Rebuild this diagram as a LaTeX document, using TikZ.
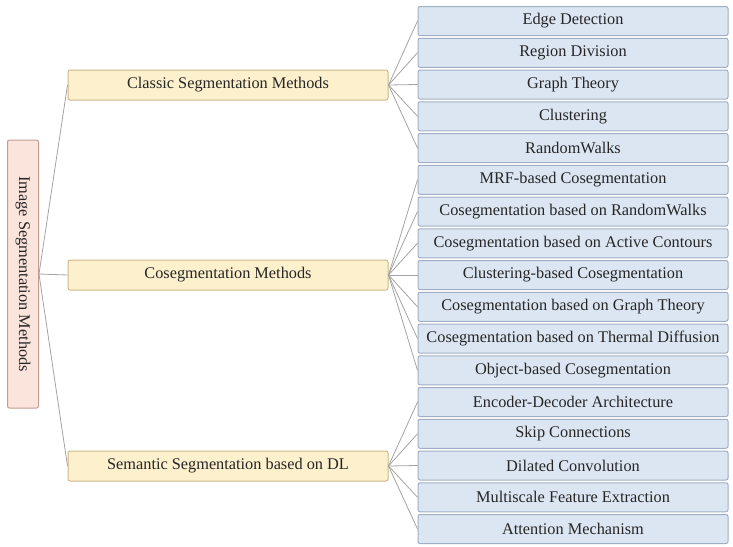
\documentclass[tikz,border=0pt]{standalone}
\usepackage{fontspec}
\setmainfont{Liberation Serif}
\definecolor{rootfill}{HTML}{FBE4DB}
\definecolor{rootline}{HTML}{C09C92}
\definecolor{midfill}{HTML}{FDF0CC}
\definecolor{midline}{HTML}{CDB887}
\definecolor{leaffill}{HTML}{DCE6F2}
\definecolor{leafline}{HTML}{9EAFC4}
\definecolor{conn}{HTML}{A3A3A3}
\definecolor{txt}{HTML}{262626}
\begin{document}
\begin{tikzpicture}[x=1pt,y=-1pt,
  base/.style={draw, line width=1pt, rounded corners=2pt, inner sep=0pt, text=txt,
    font=\fontsize{16.3}{18}\selectfont},
  rootbox/.style={base, fill=rootfill, draw=rootline, minimum width=268, minimum height=31, rotate=-90},
  midbox/.style={base, fill=midfill, draw=midline, minimum width=320, minimum height=30},
  leafbox/.style={base, fill=leaffill, draw=leafline, minimum width=310, minimum height=29},
  link/.style={draw=conn, line width=0.8pt}]
\useasboundingbox (0,0) rectangle (733,546);
\node[rootbox] (root) at (23,274) {Image Segmentation Methods};
\node[midbox] (m1) at (228,85) {Classic Segmentation Methods};
\node[midbox] (m2) at (228,275) {Cosegmentation Methods};
\node[midbox] (m3) at (228,466) {Semantic Segmentation based on DL};
\foreach \t [count=\i from 0] in {Edge Detection, Region Division, Graph Theory, Clustering, RandomWalks,
  MRF-based Cosegmentation, Cosegmentation based on RandomWalks, Cosegmentation based on Active Contours,
  Clustering-based Cosegmentation, Cosegmentation based on Graph Theory, Cosegmentation based on Thermal Diffusion,
  Object-based Cosegmentation, Encoder-Decoder Architecture, Skip Connections, Dilated Convolution,
  Multiscale Feature Extraction, Attention Mechanism}
  \node[leafbox] (l\i) at (573,21+\i*31.75) {\t};
\foreach \m in {m1,m2,m3} \draw[link] (root.north) -- (\m.west);
\foreach \i in {0,...,4} \draw[link] (m1.east) -- (l\i.west);
\foreach \i in {5,...,11} \draw[link] (m2.east) -- (l\i.west);
\foreach \i in {12,...,16} \draw[link] (m3.east) -- (l\i.west);
\end{tikzpicture}
\end{document}
